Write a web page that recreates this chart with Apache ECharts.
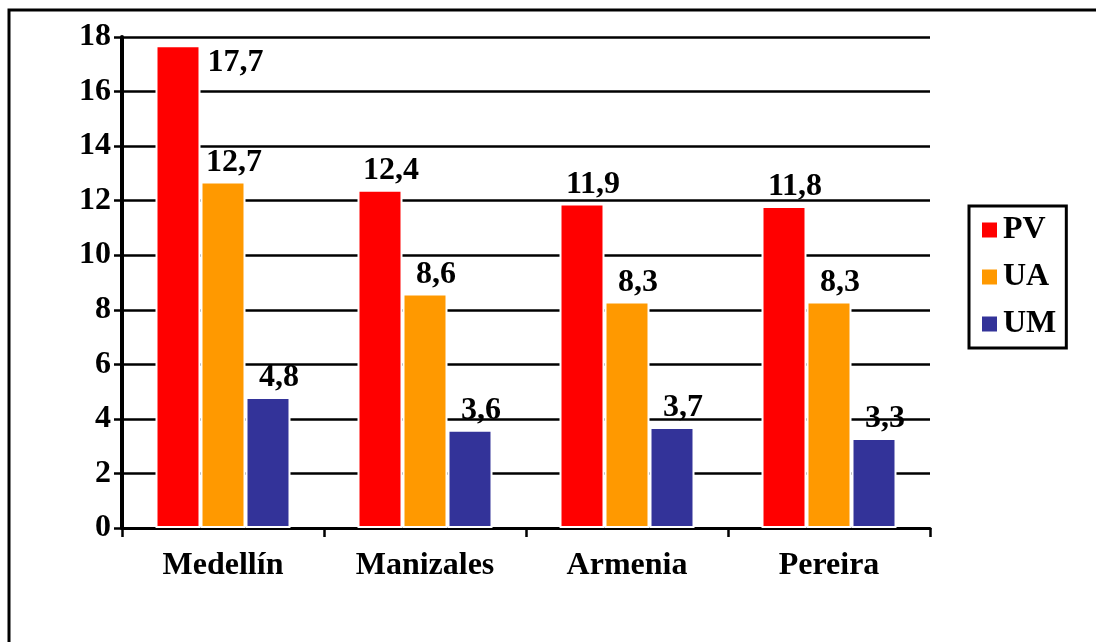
<!DOCTYPE html>
<html>
<head>
<meta charset="utf-8">
<script src="https://cdn.jsdelivr.net/npm/echarts@6/dist/echarts.min.js"></script>
<style>
html,body{margin:0;padding:0;background:#fff;}
#chart{width:1096px;height:642px;}
</style>
</head>
<body>
<div id="chart"></div>
<script>
const categories = ['Medellín', 'Manizales', 'Armenia', 'Pereira'];
const seriesNames = ['PV', 'UA', 'UM'];
const pvValues = [17.7, 12.4, 11.9, 11.8];
const uaValues = [12.7, 8.6, 8.3, 8.3];
const umValues = [4.8, 3.6, 3.7, 3.3];
const yTicks = [0, 2, 4, 6, 8, 10, 12, 14, 16, 18];

const colors = ['#ff0000', '#ff9900', '#333399'];
const FONT = '"Liberation Serif", "Times New Roman", serif';
const FS = 32;
const fmt = v => v.toFixed(1).replace('.', ',');

const allValues = [pvValues, uaValues, umValues];
const yMax = yTicks[yTicks.length - 1];

function buildData(vals) {
  return vals.map(v => {
    // labels that would not fit above the plot go beside the bar
    if (v + 1.2 > yMax) {
      return {
        value: v,
        label: { position: ['100%', 0], align: 'left', verticalAlign: 'top', offset: [7, 2] }
      };
    }
    return v;
  });
}

const series = seriesNames.map((name, i) => ({
  name: name,
  type: 'bar',
  data: buildData(allValues[i]),
  barWidth: 45,
  barGap: '0%',
  itemStyle: { color: colors[i], borderColor: '#ffffff', borderWidth: 2 },
  label: {
    show: true,
    position: 'top',
    distance: 3,
    offset: [11, 0],
    fontFamily: FONT,
    fontWeight: 'bold',
    fontSize: FS,
    color: '#000',
    formatter: p => fmt(p.value)
  }
}));

const chart = echarts.init(document.getElementById('chart'), null, { renderer: 'canvas' });
chart.setOption({
  animation: false,
  backgroundColor: '#ffffff',
  color: colors,
  grid: { left: 122, top: 37, right: 166, bottom: 114, containLabel: false },
  graphic: [{
    type: 'rect',
    shape: { x: 9, y: 10, width: 1300, height: 1000 },
    style: { fill: 'none', stroke: '#000', lineWidth: 3 },
    silent: true,
    z: 100
  }],
  legend: {
    orient: 'vertical',
    left: 969,
    top: 206,
    data: seriesNames,
    icon: 'rect',
    itemWidth: 17,
    itemHeight: 17,
    itemGap: 15,
    itemTextGap: 10,
    padding: [8, 10, 8, 11],
    borderColor: '#000',
    borderWidth: 3,
    textStyle: { fontFamily: FONT, fontWeight: 'bold', fontSize: FS, color: '#000' }
  },
  xAxis: {
    type: 'category',
    data: categories,
    axisLine: { show: true, lineStyle: { color: '#000', width: 3 } },
    axisTick: { show: true, length: 9, lineStyle: { color: '#000', width: 2.5 } },
    axisLabel: { margin: 22, fontFamily: FONT, fontWeight: 'bold', fontSize: FS, color: '#000' },
    splitLine: { show: false }
  },
  yAxis: {
    type: 'value',
    min: 0,
    max: yMax,
    interval: 2,
    axisLine: { show: true, lineStyle: { color: '#000', width: 4 } },
    axisTick: { show: true, length: 8, lineStyle: { color: '#000', width: 2.5 } },
    axisLabel: {
      margin: 11,
      fontFamily: FONT, fontWeight: 'bold', fontSize: FS, color: '#000',
      formatter: v => (yTicks.indexOf(v) >= 0 ? String(v) : '')
    },
    splitLine: { show: true, lineStyle: { color: '#000', width: 2.5 } }
  },
  series: series
});
</script>
</body>
</html>
